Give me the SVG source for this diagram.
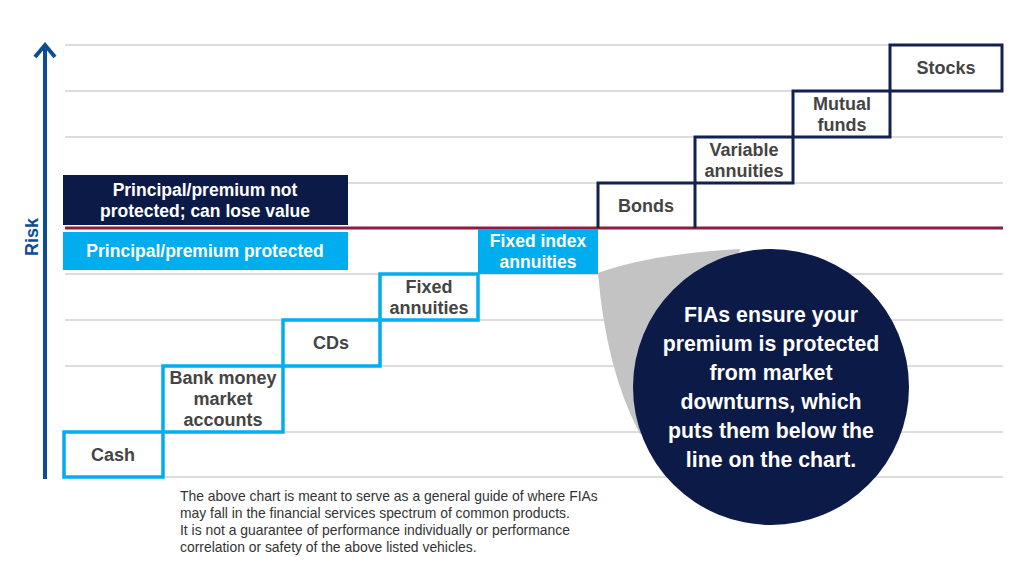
<svg xmlns="http://www.w3.org/2000/svg" width="1024" height="570" viewBox="0 0 1024 570">
<style>
.grid{stroke:#d2d2d2;stroke-width:1.5;fill:none}
.lb{fill:none;stroke:#00aeef;stroke-width:3.5}
.nv{fill:none;stroke:#13214f;stroke-width:3}
.t{font-family:"Liberation Sans",Arial,sans-serif;font-weight:bold;font-size:18px;fill:#444;text-anchor:middle}
.w{font-family:"Liberation Sans",Arial,sans-serif;font-weight:bold;font-size:17.5px;fill:#fff;text-anchor:middle}
.c{font-family:"Liberation Sans",Arial,sans-serif;font-weight:bold;font-size:21.3px;fill:#fff;text-anchor:middle}
.f{font-family:"Liberation Sans",Arial,sans-serif;font-size:13.9px;fill:#333}
</style>
<rect width="1024" height="570" fill="#fff"/>
<g id="grid">
<line class="grid" x1="65" y1="45" x2="1003" y2="45"/>
<line class="grid" x1="65" y1="91" x2="1003" y2="91"/>
<line class="grid" x1="65" y1="137" x2="1003" y2="137"/>
<line class="grid" x1="65" y1="183" x2="1003" y2="183"/>
<line class="grid" x1="65" y1="274" x2="1003" y2="274"/>
<line class="grid" x1="65" y1="320" x2="1003" y2="320"/>
<line class="grid" x1="65" y1="366" x2="1003" y2="366"/>
<line class="grid" x1="65" y1="432" x2="1003" y2="432"/>
<line class="grid" x1="65" y1="477" x2="1003" y2="477"/>
</g>
<g id="axis">
<line x1="45" y1="479" x2="45" y2="46" stroke="#0d4d94" stroke-width="4"/>
<polyline points="35,57 45,45 55,57" fill="none" stroke="#0d4d94" stroke-width="4"/>
<text x="0" y="0" transform="translate(38,237) rotate(-90)" font-family="Liberation Sans,Arial,sans-serif" font-weight="bold" font-size="18" fill="#0d4d94" text-anchor="middle">Risk</text>
</g>
<g id="legend-not-protected">
<rect x="63" y="175" width="285" height="50" fill="#0c1a48"/>
<text class="w" x="205" y="196">Principal/premium not</text>
<text class="w" x="205" y="217">protected; can lose value</text>
</g>
<g id="divider">
<line x1="65" y1="228" x2="1003" y2="228" stroke="#8c1d40" stroke-width="3"/>
</g>
<g id="legend-protected">
<rect x="63" y="232" width="285" height="38" fill="#00aeef"/>
<text class="w" x="205" y="257">Principal/premium protected</text>
</g>
<g id="callout-shadow">
<path d="M598,273 Q650,254 740,249 L700,430 L640,434 Q606,370 598,273 Z" fill="#c3c3c3"/>
</g>
<g id="cash">
<rect class="lb" x="64" y="432" width="99" height="45"/>
<text class="t" x="113" y="461">Cash</text>
</g>
<g id="bank">
<rect class="lb" x="163" y="366" width="120" height="66"/>
<text class="t" x="223" y="384">Bank money</text>
<text class="t" x="223" y="405">market</text>
<text class="t" x="223" y="426">accounts</text>
</g>
<g id="cds">
<rect class="lb" x="283" y="320" width="97" height="46"/>
<text class="t" x="331" y="349">CDs</text>
</g>
<g id="fixed">
<rect class="lb" x="380" y="274" width="98" height="46"/>
<text class="t" x="429" y="293">Fixed</text>
<text class="t" x="429" y="314">annuities</text>
</g>
<g id="fia">
<rect x="478" y="229" width="120" height="45" fill="#00aeef"/>
<text class="w" x="538" y="247">Fixed index</text>
<text class="w" x="538" y="268">annuities</text>
</g>
<g id="bonds">
<polyline class="nv" points="598,228 598,183 695,183 695,228"/>
<text class="t" x="646" y="212">Bonds</text>
</g>
<g id="variable">
<rect class="nv" x="695" y="137" width="98" height="46"/>
<text class="t" x="744" y="156">Variable</text>
<text class="t" x="744" y="177">annuities</text>
</g>
<g id="mutual">
<rect class="nv" x="793" y="91" width="97" height="46"/>
<text class="t" x="842" y="110">Mutual</text>
<text class="t" x="842" y="131">funds</text>
</g>
<g id="stocks">
<rect class="nv" x="890" y="45" width="112" height="46"/>
<text class="t" x="946" y="74">Stocks</text>
</g>
<g id="callout">
<circle cx="771" cy="387" r="138" fill="#0c1a48"/>
<text class="c" x="771" y="322">FIAs ensure your</text>
<text class="c" x="771" y="351">premium is protected</text>
<text class="c" x="771" y="380">from market</text>
<text class="c" x="771" y="409">downturns, which</text>
<text class="c" x="771" y="438">puts them below the</text>
<text class="c" x="771" y="467">line on the chart.</text>
</g>
<g id="footnote">
<text class="f" x="180" y="501">The above chart is meant to serve as a general guide of where FIAs</text>
<text class="f" x="180" y="518">may fall in the financial services spectrum of common products.</text>
<text class="f" x="180" y="535">It is not a guarantee of performance individually or performance</text>
<text class="f" x="180" y="552">correlation or safety of the above listed vehicles.</text>
</g>
</svg>
